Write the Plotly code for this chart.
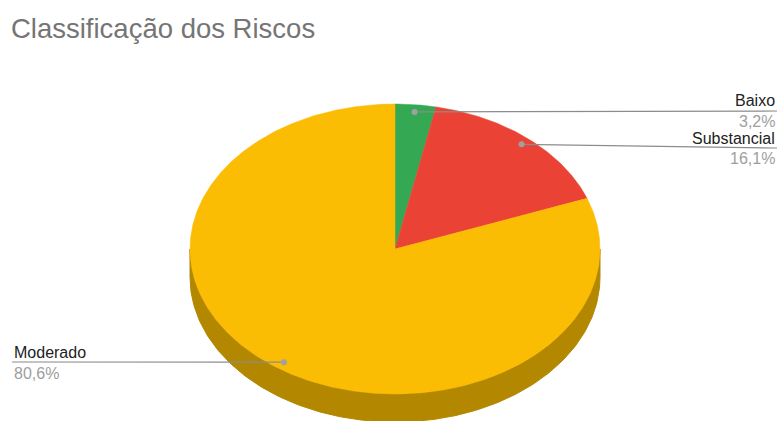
import numpy as np
import plotly.graph_objects as go

# Data
categories = ["Baixo", "Substancial", "Moderado"]
percentages = [3.2, 16.1, 80.6]
colors = ["#34A853", "#EA4335", "#FBBC04"]
side_color = "#B38700"

# Tilted-disc geometry (pixel space, y grows downward)
cx, cy = 395, 249
rx, ry = 205, 145
depth = 28
dot_frac = 0.95


def rim(theta_deg, dy=0.0, frac=1.0):
    t = np.radians(theta_deg)
    return cx + frac * rx * np.sin(t), cy - frac * ry * np.cos(t) + dy


fig = go.Figure()

# Front side wall of the disc (visible lower half)
total = sum(percentages)
bounds = np.concatenate([[0], np.cumsum(percentages) / total * 360])
for i in range(len(categories)):
    a0, a1 = bounds[i], bounds[i + 1]
    lo, hi = max(a0, 90), min(a1, 270)
    if hi <= lo:
        continue
    th = np.linspace(lo, hi, 200)
    x1, y1 = rim(th)
    x2, y2 = rim(th[::-1], dy=depth)
    fig.add_trace(go.Scatter(
        x=np.concatenate([x1, x2, x1[:1]]),
        y=np.concatenate([y1, y2, y1[:1]]),
        fill="toself", fillcolor=side_color, mode="lines",
        line=dict(color=side_color, width=1), hoverinfo="skip",
        showlegend=False))

# Top face slices, clockwise from 12 o'clock
for i, name in enumerate(categories):
    a0, a1 = bounds[i], bounds[i + 1]
    th = np.linspace(a0, a1, max(int(a1 - a0) * 2, 10))
    xs, ys = rim(th)
    fig.add_trace(go.Scatter(
        x=np.concatenate([[cx], xs, [cx]]),
        y=np.concatenate([[cy], ys, [cy]]),
        fill="toself", fillcolor=colors[i], mode="lines",
        line=dict(color=colors[i], width=0.5), name=name,
        hoverinfo="name", showlegend=False))

# Leader lines, dots and labels
label_pos = {
    "Baixo": dict(x=777, y_name=100, y_line=111, y_pct=121, anchor="right"),
    "Substancial": dict(x=777, y_name=138, y_line=148, y_pct=158, anchor="right"),
    "Moderado": dict(x=12, y_name=352, y_line=362, y_pct=373, anchor="left"),
}
for i, name in enumerate(categories):
    mid = (bounds[i] + bounds[i + 1]) / 2
    dx, dy = rim(mid, frac=dot_frac)
    p = label_pos[name]
    fig.add_trace(go.Scatter(
        x=[dx, p["x"]], y=[dy, p["y_line"]], mode="lines",
        line=dict(color="#8c8c8c", width=1.2), hoverinfo="skip",
        showlegend=False))
    fig.add_trace(go.Scatter(
        x=[dx], y=[dy], mode="markers",
        marker=dict(color="#a0a0a0", size=6), hoverinfo="skip",
        showlegend=False))
    fig.add_annotation(x=p["x"], y=p["y_name"], text=name, showarrow=False,
                       xanchor=p["anchor"], yanchor="middle",
                       font=dict(size=16, color="#222222"))
    pct_txt = f"{percentages[i]:.1f}%".replace(".", ",")
    fig.add_annotation(x=p["x"], y=p["y_pct"], text=pct_txt, showarrow=False,
                       xanchor=p["anchor"], yanchor="middle",
                       font=dict(size=16, color="#9e9e9e"))

fig.update_layout(
    width=780, height=421,
    margin=dict(l=0, r=0, t=0, b=0),
    paper_bgcolor="white", plot_bgcolor="white",
    font=dict(family="Liberation Sans, Arial, sans-serif"),
    title=dict(text="Classificação dos Riscos", x=11 / 780, xanchor="left",
               xref="paper", y=1 - 28 / 421, yref="container", yanchor="middle",
               font=dict(size=27.5, color="#757575")),
    xaxis=dict(range=[0, 780], visible=False, fixedrange=True),
    yaxis=dict(range=[421, 0], visible=False, fixedrange=True),
)

fig.write_html("out.html")
